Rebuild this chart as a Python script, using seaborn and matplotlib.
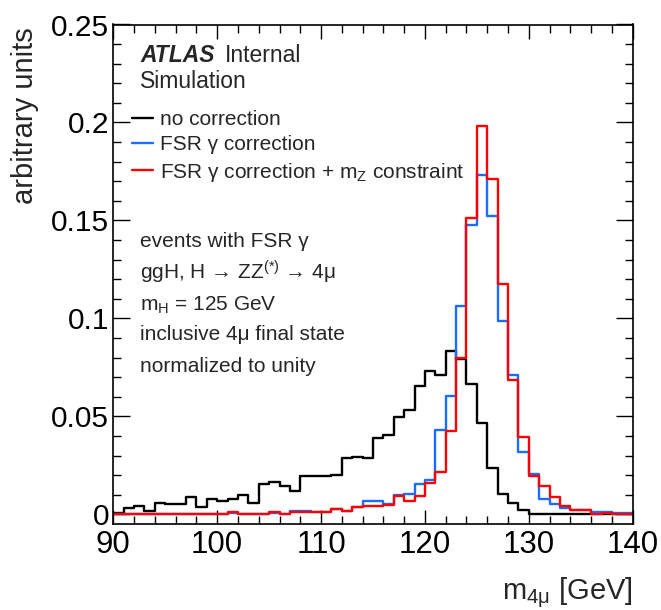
import numpy as np
import pandas as pd
import matplotlib
matplotlib.use("Agg")
import matplotlib.pyplot as plt
import seaborn as sns
from matplotlib.ticker import MultipleLocator, FuncFormatter

# ---------------- data ----------------
bin_lo, bin_hi, bin_w = 90, 140, 1          # 1 GeV bins, 90..140
no_corr = [0.0009, 0.0032, 0.0040, 0.0015, 0.0057, 0.0052, 0.0052, 0.0086, 0.0037, 0.0079,
           0.0069, 0.0079, 0.0097, 0.0057, 0.0156, 0.0164, 0.0143, 0.0120, 0.0193, 0.0196,
           0.0193, 0.0199, 0.0288, 0.0292, 0.0288, 0.0389, 0.0403, 0.0495, 0.0534, 0.0656,
           0.0731, 0.0712, 0.0832, 0.0791, 0.0663, 0.0466, 0.0235, 0.0102, 0.0056, 0.0023,
           0.0003, 0.0003, 0.0003, 0.0003, 0.0003, 0.0003, 0.0003, 0.0003, 0.0003, 0.0003]
fsr_corr = [0.0004, 0.0004, 0.0004, 0.0004, 0.0004, 0.0004, 0.0004, 0.0004, 0.0004, 0.0004,
            0.0004, 0.0008, 0.0004, 0.0004, 0.0004, 0.0008, 0.0004, 0.0019, 0.0017, 0.0012,
            0.0014, 0.0027, 0.0018, 0.0036, 0.0067, 0.0066, 0.0052, 0.0098, 0.0103, 0.0154,
            0.0175, 0.0432, 0.0606, 0.1065, 0.1476, 0.1733, 0.1524, 0.0988, 0.0711, 0.0320,
            0.0205, 0.0078, 0.0052, 0.0030, 0.0023, 0.0020, 0.0011, 0.0011, 0.0006, 0.0006]
fsr_mz = [0.0004, 0.0004, 0.0004, 0.0004, 0.0004, 0.0004, 0.0004, 0.0004, 0.0004, 0.0004,
          0.0004, 0.0010, 0.0004, 0.0004, 0.0004, 0.0010, 0.0004, 0.0012, 0.0014, 0.0014,
          0.0014, 0.0027, 0.0016, 0.0036, 0.0042, 0.0041, 0.0046, 0.0092, 0.0068, 0.0092,
          0.0158, 0.0218, 0.0423, 0.0800, 0.1510, 0.1980, 0.1710, 0.1177, 0.0685, 0.0394,
          0.0195, 0.0142, 0.0088, 0.0043, 0.0023, 0.0023, 0.0003, 0.0009, 0.0003, 0.0003]
series_labels = ["no correction",
                 "FSR \u03b3 correction",
                 "FSR \u03b3 correction + m$_{\\mathregular{Z}}$ constraint"]
series_colors = ["#000000", "#1a6dff", "#ff0000"]
y_ticks = [0, 0.05, 0.1, 0.15, 0.2, 0.25]
x_ticks = [90, 100, 110, 120, 130, 140]
info_lines = ["events with FSR \u03b3",
              "ggH, H \u2192 ZZ$^{\\mathregular{(*)}}$ \u2192 4\u03bc",
              "m$_{\\mathregular{H}}$ = 125 GeV",
              "inclusive 4\u03bc final state",
              "normalized to unity"]

# ---------------- style ----------------
sns.set_style("ticks")
plt.rcParams["font.family"] = ["Liberation Sans", "DejaVu Sans"]
plt.rcParams["mathtext.fontset"] = "custom"
plt.rcParams["mathtext.rm"] = "Liberation Sans"
plt.rcParams["mathtext.it"] = "Liberation Sans:italic"
plt.rcParams["mathtext.bf"] = "Liberation Sans:bold"

W, H = 661, 610
fig = plt.figure(figsize=(W / 100, H / 100), dpi=100)
L, R, T, B = 113.3, 632.7, 24.5, 523.5
ax = fig.add_axes([L / W, 1 - B / H, (R - L) / W, (B - T) / H])

centers = np.arange(bin_lo, bin_hi, bin_w) + bin_w / 2
df = pd.DataFrame({"m4mu": centers, "no": no_corr, "fsr": fsr_corr, "mz": fsr_mz})

for col, lab, c in zip(["no", "fsr", "mz"], series_labels, series_colors):
    sns.histplot(data=df, x="m4mu", weights=col, binwidth=bin_w,
                 binrange=(bin_lo, bin_hi), element="step",
                 fill=False, color=c, linewidth=1.7, label=lab, ax=ax)

ax.set_xlim(90, 140)
ax.set_ylim(-0.0047, 0.25)
ax.set_xticks(x_ticks)
ax.set_yticks(y_ticks)
ax.xaxis.set_minor_locator(MultipleLocator(2))
ax.yaxis.set_minor_locator(MultipleLocator(0.01))
ax.yaxis.set_major_formatter(FuncFormatter(lambda v, p: "%g" % round(v, 3)))

for s in ax.spines.values():
    s.set_visible(True)
    s.set_linewidth(1.2)
    s.set_color("black")
ax.tick_params(axis="both", which="both", direction="in", top=True, right=True,
               colors="black", width=1.0)
ax.tick_params(axis="x", which="major", length=10, labelsize=22.5, pad=4.5)
ax.tick_params(axis="x", which="minor", length=5.5)
ax.tick_params(axis="y", which="major", length=12, labelsize=21.5, pad=3)
ax.tick_params(axis="y", which="minor", length=6)

ax.set_ylabel("arbitrary units", fontsize=21, loc="top")
ax.yaxis.set_label_coords(-0.143, 0.995)
ax.set_xlabel("m$_{\\mathregular{4\u03bc}}$ [GeV]", fontsize=21, loc="right")
ax.xaxis.set_label_coords(1.0, -0.104)

def ax_x(px):
    return (px - L) / (R - L)

def ax_y(py):
    return (B - py) / (B - T)

ax.text(ax_x(140), ax_y(62), "ATLAS", transform=ax.transAxes, fontsize=16.5,
        fontweight="bold", fontstyle="italic", va="baseline", ha="left")
ax.text(ax_x(225), ax_y(62), "Internal", transform=ax.transAxes, fontsize=16.5,
        va="baseline", ha="left")
ax.text(ax_x(140), ax_y(88), "Simulation", transform=ax.transAxes, fontsize=16.5,
        va="baseline", ha="left")

baselines = [247, 279, 311, 340, 372]
for txt, yb in zip(info_lines, baselines):
    ax.text(ax_x(140), ax_y(yb), txt, transform=ax.transAxes, fontsize=15,
            va="baseline", ha="left")

leg = ax.legend(loc="upper left", bbox_to_anchor=(ax_x(132), ax_y(110)),
                frameon=False, fontsize=15, handlelength=1.0, handletextpad=0.35,
                labelspacing=0.3, borderpad=0, borderaxespad=0)

fig.savefig("out.png", dpi=100, facecolor="white")
